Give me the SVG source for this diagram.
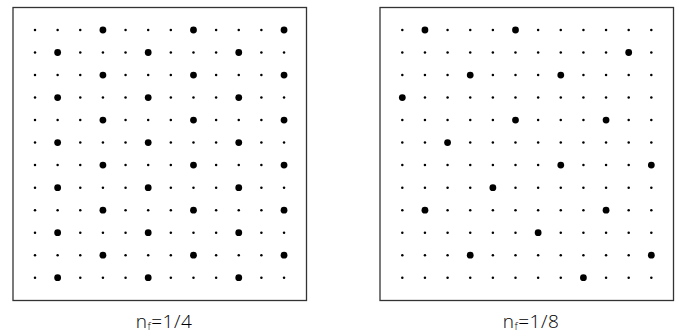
<svg xmlns="http://www.w3.org/2000/svg" xmlns:xlink="http://www.w3.org/1999/xlink" width="688" height="333" viewBox="0 0 688 333">
<style>
.frame{fill:none;stroke:#333;stroke-width:1.3}
.s{fill:#000}
.b{fill:#000}
.lbl{font-family:"Open Sans","Liberation Sans",sans-serif;font-weight:300;font-size:19px;fill:#000;letter-spacing:0.5px}
.sub{font-size:11px}
</style>
<defs>
<g id="row">
<circle class="s" cx="35" cy="0" r="1.25"/><circle class="s" cx="57.64" cy="0" r="1.25"/><circle class="s" cx="80.28" cy="0" r="1.25"/><circle class="s" cx="102.92" cy="0" r="1.25"/><circle class="s" cx="125.56" cy="0" r="1.25"/><circle class="s" cx="148.2" cy="0" r="1.25"/><circle class="s" cx="170.84" cy="0" r="1.25"/><circle class="s" cx="193.48" cy="0" r="1.25"/><circle class="s" cx="216.12" cy="0" r="1.25"/><circle class="s" cx="238.76" cy="0" r="1.25"/><circle class="s" cx="261.4" cy="0" r="1.25"/><circle class="s" cx="284.04" cy="0" r="1.25"/>
</g>
<g id="grid">
<use xlink:href="#row" y="30"/><use xlink:href="#row" y="52.52"/><use xlink:href="#row" y="75.04"/><use xlink:href="#row" y="97.56"/><use xlink:href="#row" y="120.08"/><use xlink:href="#row" y="142.6"/><use xlink:href="#row" y="165.12"/><use xlink:href="#row" y="187.64"/><use xlink:href="#row" y="210.16"/><use xlink:href="#row" y="232.68"/><use xlink:href="#row" y="255.2"/><use xlink:href="#row" y="277.72"/>
</g>
<g id="be"><circle class="b" cx="102.92" cy="0" r="3.4"/><circle class="b" cx="193.48" cy="0" r="3.4"/><circle class="b" cx="284.04" cy="0" r="3.4"/></g>
<g id="bo"><circle class="b" cx="57.64" cy="0" r="3.4"/><circle class="b" cx="148.2" cy="0" r="3.4"/><circle class="b" cx="238.76" cy="0" r="3.4"/></g>
</defs>
<g id="panel-quarter">
<rect class="frame" x="13" y="7.5" width="293.5" height="293"/>
<use xlink:href="#grid"/>
<use xlink:href="#be" y="30"/><use xlink:href="#bo" y="52.52"/><use xlink:href="#be" y="75.04"/><use xlink:href="#bo" y="97.56"/><use xlink:href="#be" y="120.08"/><use xlink:href="#bo" y="142.6"/><use xlink:href="#be" y="165.12"/><use xlink:href="#bo" y="187.64"/><use xlink:href="#be" y="210.16"/><use xlink:href="#bo" y="232.68"/><use xlink:href="#be" y="255.2"/><use xlink:href="#bo" y="277.72"/>
<text class="lbl" x="164" y="328" text-anchor="middle">n<tspan class="sub" dy="2">f</tspan><tspan dy="-2">=1/4</tspan></text>
</g>
<g id="panel-eighth">
<rect class="frame" x="380" y="7.5" width="293.5" height="293"/>
<use xlink:href="#grid" x="367.3"/>
<circle class="b" cx="424.94" cy="30" r="3.4"/><circle class="b" cx="515.5" cy="30" r="3.4"/>
<circle class="b" cx="628.7" cy="52.52" r="3.4"/>
<circle class="b" cx="470.22" cy="75.04" r="3.4"/><circle class="b" cx="560.78" cy="75.04" r="3.4"/>
<circle class="b" cx="402.3" cy="97.56" r="3.4"/>
<circle class="b" cx="515.5" cy="120.08" r="3.4"/><circle class="b" cx="606.06" cy="120.08" r="3.4"/>
<circle class="b" cx="447.58" cy="142.6" r="3.4"/>
<circle class="b" cx="560.78" cy="165.12" r="3.4"/><circle class="b" cx="651.34" cy="165.12" r="3.4"/>
<circle class="b" cx="492.86" cy="187.64" r="3.4"/>
<circle class="b" cx="424.94" cy="210.16" r="3.4"/><circle class="b" cx="606.06" cy="210.16" r="3.4"/>
<circle class="b" cx="538.14" cy="232.68" r="3.4"/>
<circle class="b" cx="470.22" cy="255.2" r="3.4"/><circle class="b" cx="651.34" cy="255.2" r="3.4"/>
<circle class="b" cx="583.42" cy="277.72" r="3.4"/>
<text class="lbl" x="531" y="328" text-anchor="middle">n<tspan class="sub" dy="2">f</tspan><tspan dy="-2">=1/8</tspan></text>
</g>
</svg>
